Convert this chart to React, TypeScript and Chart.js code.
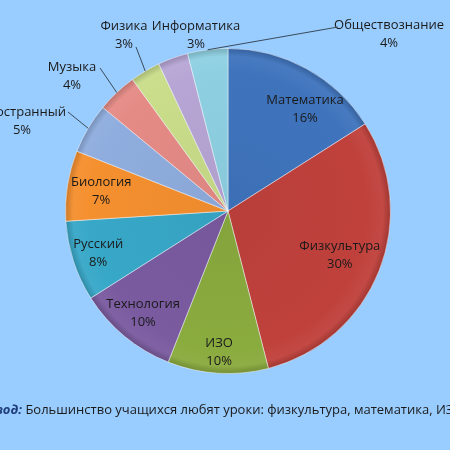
import React, { useEffect, useRef } from "react";
import { Chart, registerables } from "chart.js";

Chart.register(...registerables);

const subjects = [
  "Математика",
  "Физкультура",
  "ИЗО",
  "Технология",
  "Русский",
  "Биология",
  "Иностранный",
  "Музыка",
  "Физика",
  "Информатика",
  "Обществознание",
];
const percents = [16, 30, 10, 10, 8, 7, 5, 4, 3, 3, 4];
const sliceColors = [
  "#3f74bd",
  "#c0413c",
  "#8aab3e",
  "#7b5ba0",
  "#38a8c8",
  "#f5902f",
  "#8fadde",
  "#e58b86",
  "#c9dd8a",
  "#b7a6d5",
  "#8ed0e2",
];
const conclusionLead = "Вывод:";
const conclusionText = " Большинство учащихся любят уроки: физкультура, математика, ИЗО.";

// label placement: inside labels (radius fraction + nudge) / outside labels (offset from chart center in px + leader)
const insideLabel: Record<number, { frac: number; dx: number; dy: number }> = {
  0: { frac: 0.78, dx: 16, dy: 9 },
  1: { frac: 0.74, dx: 0, dy: 0 },
  2: { frac: 0.87, dx: 0, dy: 0 },
  3: { frac: 0.82, dx: 0, dy: 0 },
  4: { frac: 0.84, dx: 0, dy: 0 },
  5: { frac: 0.79, dx: 0, dy: 0 },
};
const outsideLabel: Record<number, { tx: number; ty: number; lx: number; ly: number; leader: boolean }> = {
  6: { tx: -206, ty: -90, lx: -160, ly: -99, leader: true },
  7: { tx: -156, ty: -135, lx: -128, ly: -143, leader: true },
  8: { tx: -104, ty: -176, lx: -92, ly: -164, leader: true },
  9: { tx: -32, ty: -176, lx: 0, ly: 0, leader: false },
  10: { tx: 161, ty: -177, lx: 110, ly: -184, leader: true },
};

function shade(hex: string, f: number) {
  const n = parseInt(hex.slice(1), 16);
  let r = (n >> 16) & 255, g = (n >> 8) & 255, b = n & 255;
  if (f < 0) {
    r = Math.round(r * (1 + f)); g = Math.round(g * (1 + f)); b = Math.round(b * (1 + f));
  } else {
    r = Math.round(r + (255 - r) * f); g = Math.round(g + (255 - g) * f); b = Math.round(b + (255 - b) * f);
  }
  return `rgb(${r},${g},${b})`;
}

const FONT = '"Open Sans", sans-serif';
const TEXT_COLOR = "#1a1a1a";

const labelPlugin = {
  id: "sliceLabels",
  beforeDatasetsDraw(chart: any) {
    const meta = chart.getDatasetMeta(0);
    const a = meta.data[0];
    if (!a) return;
    const ctx = chart.ctx;
    ctx.save();
    ctx.beginPath();
    ctx.arc(a.x + 1, a.y + 3, a.outerRadius, 0, Math.PI * 2);
    ctx.fillStyle = "rgba(0,0,0,0.001)";
    ctx.shadowColor = "rgba(0,0,0,0.3)";
    ctx.shadowBlur = 7;
    ctx.shadowOffsetY = 2;
    ctx.fill();
    ctx.restore();
  },
  afterDatasetsDraw(chart: any) {
    const ctx = chart.ctx;
    const meta = chart.getDatasetMeta(0);
    ctx.save();
    ctx.font = `13px ${FONT}`;
    ctx.fillStyle = TEXT_COLOR;
    ctx.textAlign = "center";
    ctx.textBaseline = "middle";
    meta.data.forEach((arc: any, i: number) => {
      const mid = (arc.startAngle + arc.endAngle) / 2;
      const cx = arc.x, cy = arc.y, r = arc.outerRadius;
      const lines = [subjects[i], `${percents[i]}%`];
      if (insideLabel[i]) {
        const p = insideLabel[i];
        const x = cx + Math.cos(mid) * r * p.frac + p.dx;
        const y = cy + Math.sin(mid) * r * p.frac + p.dy;
        ctx.fillText(lines[0], x, y - 9);
        ctx.fillText(lines[1], x, y + 9);
      } else if (outsideLabel[i]) {
        const p = outsideLabel[i];
        const x = cx + p.tx, y = cy + p.ty;
        ctx.fillText(lines[0], x, y - 9);
        ctx.fillText(lines[1], x, y + 9);
        if (p.leader) {
          ctx.strokeStyle = "#3a4a5a";
          ctx.lineWidth = 1;
          ctx.beginPath();
          ctx.moveTo(cx + Math.cos(mid) * r, cy + Math.sin(mid) * r);
          ctx.lineTo(cx + p.lx, cy + p.ly);
          ctx.stroke();
        }
      }
    });
    // conclusion line
    ctx.textAlign = "left";
    ctx.textBaseline = "middle";
    ctx.font = `italic bold 13px ${FONT}`;
    ctx.fillStyle = "#1f3d7a";
    const w1 = ctx.measureText(conclusionLead).width;
    const startX = 22 - w1;
    ctx.fillText(conclusionLead, startX, 410);
    ctx.font = `13px ${FONT}`;
    ctx.fillStyle = TEXT_COLOR;
    ctx.fillText(conclusionText, startX + w1, 410);
    ctx.restore();
  },
};

export default function App() {
  const ref = useRef<HTMLCanvasElement>(null);
  useEffect(() => {
    if (!ref.current) return;
    const chart = new Chart(ref.current, {
      type: "pie",
      data: {
        labels: subjects,
        datasets: [
          {
            data: percents,
            backgroundColor: (c: any) => {
              const ch = c.chart;
              const area = ch.chartArea;
              const base = sliceColors[c.dataIndex];
              if (!area) return base;
              const x = (area.left + area.right) / 2;
              const y = (area.top + area.bottom) / 2;
              const r = Math.min(area.right - area.left, area.bottom - area.top) / 2;
              const g = ch.ctx.createRadialGradient(x, y, 0, x, y, r);
              g.addColorStop(0, shade(base, -0.04));
              g.addColorStop(0.85, base);
              g.addColorStop(0.95, shade(base, 0.04));
              g.addColorStop(1, shade(base, -0.18));
              return g;
            },
            borderColor: "rgba(255,255,255,0.45)",
            borderWidth: 1,
          },
        ],
      },
      options: {
        animation: false,
        responsive: false,
        maintainAspectRatio: false,
        layout: { padding: { top: 48, bottom: 76, left: 65, right: 59 } },
        plugins: {
          legend: { display: false },
          tooltip: { enabled: false },
        },
      },
      plugins: [labelPlugin],
    });
    return () => chart.destroy();
  }, []);
  return (
    <div style={{ position: "fixed", left: 0, top: 0, width: 450, height: 450, background: "#99ccff" }}>
      <canvas ref={ref} width={450} height={450} style={{ width: 450, height: 450 }} />
    </div>
  );
}
